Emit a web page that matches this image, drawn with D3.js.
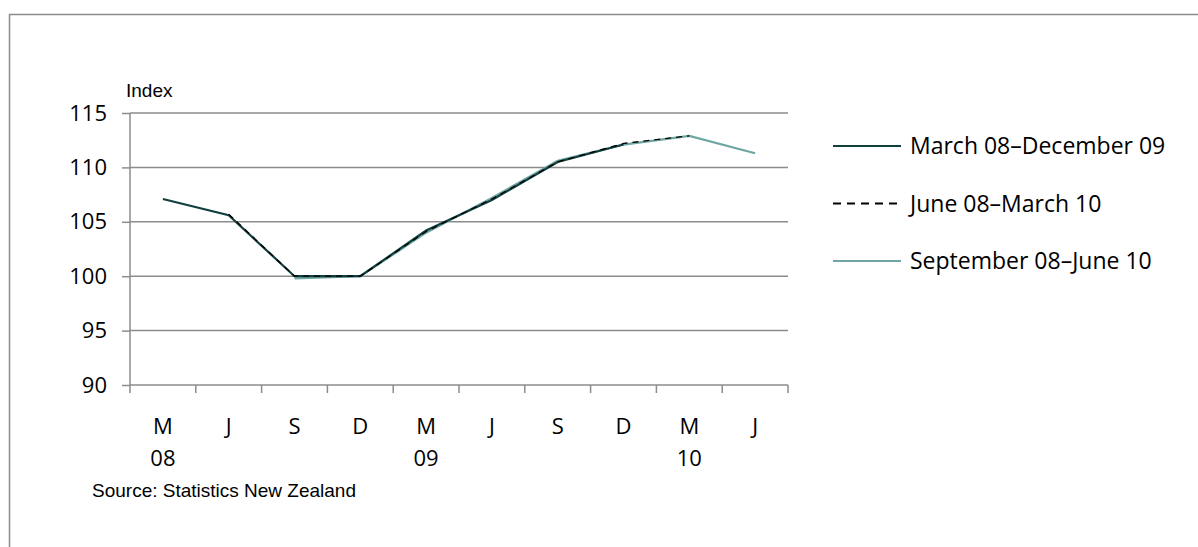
<!DOCTYPE html>
<html>
<head>
<meta charset="utf-8">
<script src="https://cdn.jsdelivr.net/npm/d3@7"></script>
<style>
  body { margin: 0; background: #fff; }
  svg { display: block; }
</style>
</head>
<body>
<svg id="chart" width="1198" height="547"></svg>
<script>
// quarters along the x axis
const quarters = ["M08", "J08", "S08", "D08", "M09", "J09", "S09", "D09", "M10", "J10"];
const quarterLabels = ["M", "J", "S", "D", "M", "J", "S", "D", "M", "J"];
const yearLabels = { M08: "08", M09: "09", M10: "10" };

// three revision windows, null where the series has no value
const marchDec = [107.1, 105.6, 100.0, 100.0, 104.2, 107.0, 110.5, 112.1, null, null];
const juneMar = [null, 105.7, 100.0, 100.0, 104.1, 107.1, 110.5, 112.2, 112.9, null];
const septJune = [null, null, 99.8, 100.0, 104.0, 107.2, 110.6, 112.1, 112.9, 111.3];

const yTicks = [90, 95, 100, 105, 110, 115];

const series = [
  { name: "March 08\u2013December 09", values: marchDec, color: "#113f3e", dash: null },
  { name: "June 08\u2013March 10", values: juneMar, color: "#000000", dash: "6,5" },
  { name: "September 08\u2013June 10", values: septJune, color: "#6ea6a3", dash: null }
];

const tickFont = "'Open Sans', sans-serif";
const noteFont = "'Liberation Sans', Arial, sans-serif";

const svg = d3.select("#chart");
const margin = { top: 113, left: 130, right: 410, bottom: 162 };
const width = 1198, height = 547;
const innerWidth = width - margin.left - margin.right;
const innerHeight = height - margin.top - margin.bottom;

// outer frame (only top and left edges are visible)
svg.append("path")
  .attr("d", `M9.5,${height} V14.5 H${width}`)
  .attr("fill", "none")
  .attr("stroke", "#8c8c8c")
  .attr("stroke-width", 1.5);

const x = d3.scaleBand().domain(quarters).range([0, innerWidth]);
const y = d3.scaleLinear().domain([90, 115]).range([innerHeight, 0]);

const g = svg.append("g").attr("transform", `translate(${margin.left},${margin.top})`);

// gridlines
g.append("g")
  .selectAll("line")
  .data(yTicks.filter(t => t > 90))
  .join("line")
  .attr("x1", 0)
  .attr("x2", innerWidth)
  .attr("y1", d => y(d))
  .attr("y2", d => y(d))
  .attr("stroke", "#8c8c8c")
  .attr("stroke-width", 1.5);

// y axis
const yAxis = g.append("g")
  .call(d3.axisLeft(y).tickValues(yTicks).tickSize(8).tickPadding(15));
yAxis.select(".domain").attr("stroke", "#8c8c8c").attr("stroke-width", 1.5).attr("d", `M0,0V${innerHeight}`);
yAxis.selectAll(".tick line").attr("stroke", "#8c8c8c").attr("stroke-width", 1.5);
yAxis.selectAll(".tick text")
  .attr("fill", "#000")
  .style("font-family", tickFont)
  .style("font-size", "22px");

// x axis with ticks on category boundaries
const xAxis = g.append("g").attr("transform", `translate(0,${innerHeight})`);
xAxis.append("line")
  .attr("x1", 0).attr("x2", innerWidth)
  .attr("stroke", "#8c8c8c").attr("stroke-width", 1.5);
xAxis.selectAll(".xtick")
  .data(quarters.concat(["end"]))
  .join("line")
  .attr("class", "xtick")
  .attr("x1", (d, i) => i * x.step())
  .attr("x2", (d, i) => i * x.step())
  .attr("y1", 0)
  .attr("y2", 8)
  .attr("stroke", "#8c8c8c")
  .attr("stroke-width", 1.5);
xAxis.selectAll(".qlabel")
  .data(quarters)
  .join("text")
  .attr("class", "qlabel")
  .attr("x", d => x(d) + x.bandwidth() / 2)
  .attr("y", 49)
  .attr("text-anchor", "middle")
  .style("font-family", tickFont)
  .style("font-size", "22px")
  .text((d, i) => quarterLabels[i]);
xAxis.selectAll(".ylabel")
  .data(quarters.filter(q => yearLabels[q]))
  .join("text")
  .attr("class", "ylabel")
  .attr("x", d => x(d) + x.bandwidth() / 2)
  .attr("y", 81)
  .attr("text-anchor", "middle")
  .style("font-family", tickFont)
  .style("font-size", "22px")
  .text(d => yearLabels[d]);

// lines, light series first so the dark ones sit on top like the original
const line = d3.line()
  .defined(d => d.v !== null)
  .x(d => x(d.q) + x.bandwidth() / 2)
  .y(d => y(d.v));

[series[2], series[0], series[1]].forEach(s => {
  g.append("path")
    .datum(quarters.map((q, i) => ({ q, v: s.values[i] })))
    .attr("fill", "none")
    .attr("stroke", s.color)
    .attr("stroke-width", s.dash ? 1.3 : 2.2)
    .attr("stroke-dasharray", s.dash)
    .attr("d", line);
});

// axis title
svg.append("text")
  .attr("x", 126)
  .attr("y", 97)
  .style("font-family", noteFont)
  .style("font-size", "19px")
  .text("Index");

// legend
const legend = svg.append("g").attr("transform", "translate(833,146)");
series.forEach((s, i) => {
  const row = legend.append("g").attr("transform", `translate(0,${i * 57.5})`);
  row.append("line")
    .attr("x1", 0).attr("x2", 68)
    .attr("stroke", s.color)
    .attr("stroke-width", s.dash ? 2 : 2.2)
    .attr("stroke-dasharray", s.dash ? "8,6" : null);
  row.append("text")
    .attr("x", 77)
    .attr("y", 8)
    .style("font-family", tickFont)
    .style("font-size", "23px")
    .text(s.name);
});

// source note
svg.append("text")
  .attr("x", 92)
  .attr("y", 497)
  .style("font-family", noteFont)
  .style("font-size", "19px")
  .text("Source: Statistics New Zealand");
</script>
</body>
</html>
